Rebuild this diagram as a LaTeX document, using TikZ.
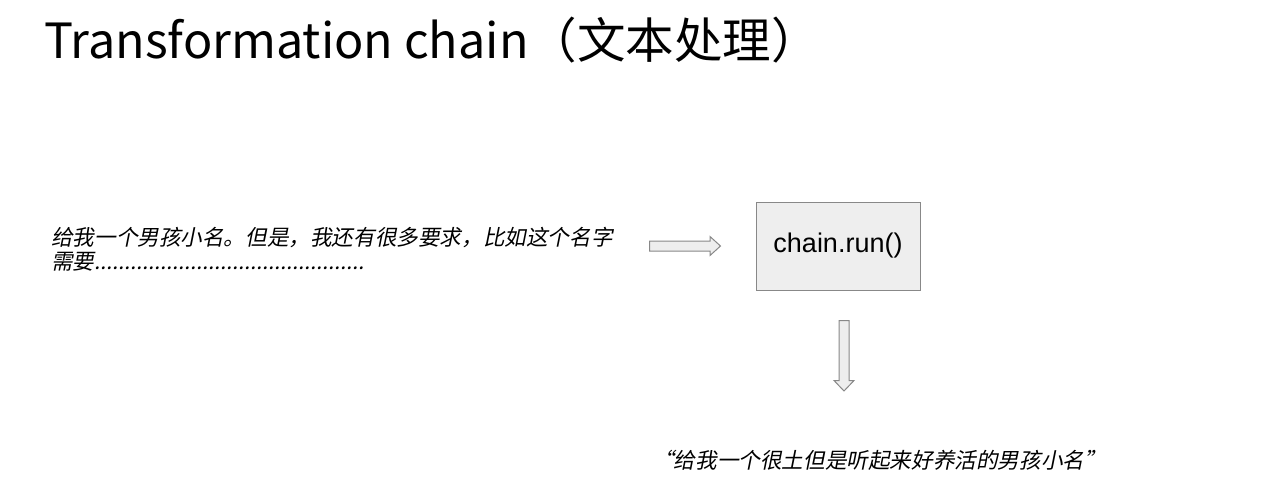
\documentclass[tikz,border=0pt]{standalone}
\usepackage{fontspec}
\usetikzlibrary{calc}
\setmainfont{Liberation Sans}
\newfontfamily\cjk{Noto Sans CJK SC}
\newfontfamily\cjkit[FakeSlant=0.2]{Noto Sans CJK SC}
\newfontfamily\arial{Liberation Sans}
\definecolor{boxfill}{HTML}{EEEEEE}
\definecolor{boxline}{HTML}{888888}
\tikzset{
  heading/.style={anchor=base west, inner sep=0pt, font=\cjk\fontsize{48.5}{58}\selectfont},
  prompt/.style={anchor=north west, inner sep=0pt, align=left, font=\cjkit\fontsize{21.6}{24.5}\selectfont},
  stagebox/.style={draw=boxline, fill=boxfill, line width=1pt, minimum width=164pt, minimum height=88pt, inner sep=0pt, font=\arial\fontsize{27}{32}\selectfont},
  blockarrow/.style={draw=boxline, fill=boxfill, line width=1pt, line join=miter}
}
\begin{document}
\begin{tikzpicture}[x=1pt,y=-1pt]
  \useasboundingbox (0,0) rectangle (1280,493);
  \fill[white] (0,0) rectangle (1280,493);

  % heading
  \node[heading] (title) at (44,58) {Transformation chain（文本处理）};

  % input prompt
  \node[prompt] (input) at (51,226.5) {给我一个男孩小名。但是，我还有很多要求，比如这个名字\\需要.............................................};

  % the chain
  \node[stagebox] (chain) at (838,246) {chain.run()};

  % output
  \node[prompt, anchor=west] (output) at (652,460) {“给我一个很土但是听起来好养活的男孩小名”};

  % arrow into the chain
  \coordinate (inTail) at (649.5,246);
  \coordinate (inTip) at (720.5,246);
  \draw[blockarrow] ($(inTail)+(0,-5)$) -- ++(60.5,0) -- ++(0,-4.5) -- (inTip)
     -- ($(inTail)+(60.5,9.5)$) -- ++(0,-4.5) -- ($(inTail)+(0,5)$) -- cycle;

  % arrow out of the chain
  \coordinate (outTail) at (844,320.5);
  \coordinate (outTip) at (844,391);
  \draw[blockarrow] ($(outTail)+(-5,0)$) -- ++(0,60) -- ++(-5,0) -- (outTip)
     -- ($(outTail)+(10,60)$) -- ++(-5,0) -- ($(outTail)+(5,0)$) -- cycle;
\end{tikzpicture}
\end{document}
